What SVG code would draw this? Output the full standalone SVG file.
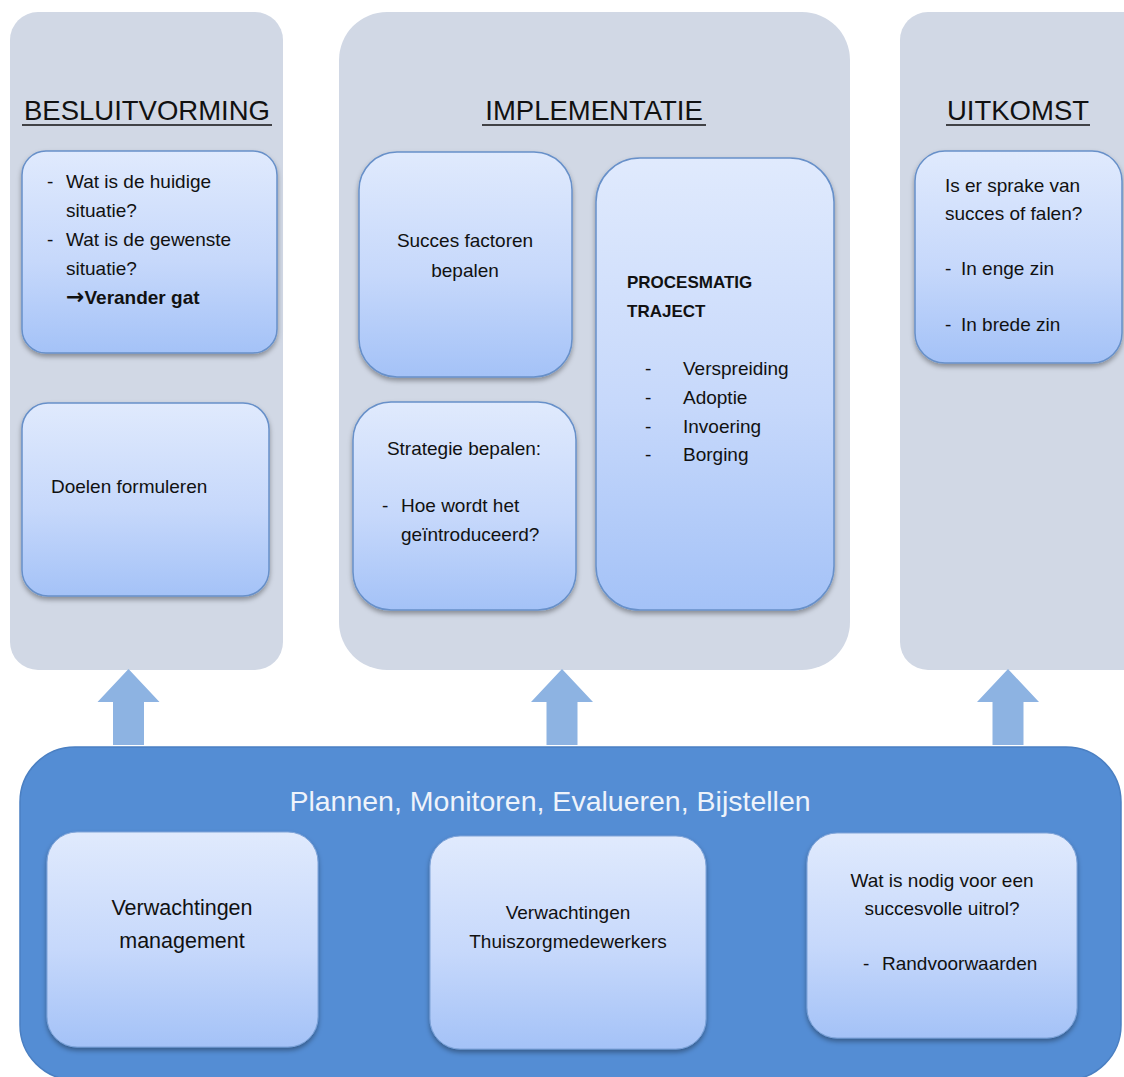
<svg xmlns="http://www.w3.org/2000/svg" width="1124" height="1077" viewBox="0 0 1124 1077">
<defs>
<linearGradient id="g" x1="0" y1="0" x2="0" y2="1">
<stop offset="0" stop-color="#e0eafd"/>
<stop offset="0.55" stop-color="#c6d8fb"/>
<stop offset="1" stop-color="#a4c2f7"/>
</linearGradient>
<filter id="sh" x="-10%" y="-10%" width="120%" height="125%">
<feDropShadow dx="0" dy="3" stdDeviation="2.5" flood-color="#000" flood-opacity="0.35"/>
</filter>
<style>
.col{fill:#d1d8e5;}
.box{fill:url(#g);stroke:#6790c9;stroke-width:1.5;filter:url(#sh);}
.sbox{fill:url(#g);stroke:#7ea3d8;stroke-width:1;filter:url(#sh);}
.t{font-family:"Liberation Sans",Arial,sans-serif;font-size:19px;fill:#111;}
.b{font-weight:bold;}
.title{font-family:"Liberation Sans",Arial,sans-serif;font-size:27.5px;fill:#111;}
.ul{stroke:#111;stroke-width:1.6;}
.arrow{fill:#8db3e2;}
.c{text-anchor:middle;}
</style>
</defs>

<g id="col-besluitvorming">
<rect class="col" x="10" y="12" width="273" height="658" rx="28"/>
<text class="title c" x="147" y="120">BESLUITVORMING</text>
<line class="ul" x1="22" y1="125" x2="272" y2="125"/>
</g>
<g id="col-implementatie">
<rect class="col" x="339" y="12" width="511" height="658" rx="48"/>
<text class="title c" x="594" y="120">IMPLEMENTATIE</text>
<line class="ul" x1="482" y1="125" x2="706" y2="125"/>
</g>
<g id="col-uitkomst">
<rect class="col" x="900" y="12" width="260" height="658" rx="28"/>
<text class="title c" x="1018" y="120">UITKOMST</text>
<line class="ul" x1="946" y1="125" x2="1090" y2="125"/>
</g>

<g id="node-situatie">
<rect class="box" x="22" y="151" width="255" height="202" rx="24"/>
<text class="t" x="47" y="188">-</text>
<text class="t" x="66" y="188">Wat is de huidige</text>
<text class="t" x="66" y="217">situatie?</text>
<text class="t" x="47" y="246">-</text>
<text class="t" x="66" y="246">Wat is de gewenste</text>
<text class="t" x="66" y="275">situatie?</text>
<text class="t b" x="66" y="304"><tspan style="font-family:'DejaVu Sans',sans-serif;font-size:22px">→</tspan>Verander gat</text>
</g>
<g id="node-doelen">
<rect class="box" x="22" y="403" width="247" height="193" rx="26"/>
<text class="t" x="51" y="493">Doelen formuleren</text>
</g>

<g id="node-succes">
<rect class="box" x="359" y="152" width="213" height="225" rx="38"/>
<text class="t c" x="465" y="247">Succes factoren</text>
<text class="t c" x="465" y="277">bepalen</text>
</g>
<g id="node-strategie">
<rect class="box" x="353" y="402" width="223" height="208" rx="38"/>
<text class="t c" x="464" y="455">Strategie bepalen:</text>
<text class="t" x="382" y="512">-</text>
<text class="t" x="401" y="512">Hoe wordt het</text>
<text class="t" x="401" y="541">geïntroduceerd?</text>
</g>
<g id="node-procesmatig">
<rect class="box" x="596" y="158" width="238" height="452" rx="44"/>
<text class="t b" x="627" y="288" style="font-size:17px">PROCESMATIG</text>
<text class="t b" x="627" y="317" style="font-size:17px">TRAJECT</text>
<text class="t" x="645" y="375">-</text><text class="t" x="683" y="375">Verspreiding</text>
<text class="t" x="645" y="404">-</text><text class="t" x="683" y="404">Adoptie</text>
<text class="t" x="645" y="433">-</text><text class="t" x="683" y="433">Invoering</text>
<text class="t" x="645" y="461">-</text><text class="t" x="683" y="461">Borging</text>
</g>

<g id="node-uitkomst">
<rect class="box" x="915" y="151" width="207" height="212" rx="30"/>
<text class="t" x="945" y="192">Is er sprake van</text>
<text class="t" x="945" y="220">succes of falen?</text>
<text class="t" x="945" y="275">-</text><text class="t" x="961" y="275">In enge zin</text>
<text class="t" x="945" y="331">-</text><text class="t" x="961" y="331">In brede zin</text>
</g>

<g id="connectors">
<polygon class="arrow" points="128.5,669 159.5,702 144,702 144,745 113,745 113,702 97.5,702"/>
<polygon class="arrow" points="562,669 593,702 577.5,702 577.5,745 546.5,745 546.5,702 531,702"/>
<polygon class="arrow" points="1008,669 1039,702 1023.5,702 1023.5,745 992.5,745 992.5,702 977,702"/>
</g>

<g id="node-pmeb">
<rect x="20" y="747" width="1101" height="333" rx="55" fill="#548dd4" stroke="#4a7fc2" stroke-width="1.5"/>
<text class="c" x="550" y="811" style="font-family:'Liberation Sans',Arial,sans-serif;font-size:28.5px;fill:#eef3fb">Plannen, Monitoren, Evalueren, Bijstellen</text>
</g>
<g id="node-management">
<rect class="sbox" x="47" y="832" width="271" height="215" rx="30"/>
<text class="t c" x="182" y="915" style="font-size:21.5px">Verwachtingen</text>
<text class="t c" x="182" y="948" style="font-size:21.5px">management</text>
</g>
<g id="node-thuiszorg">
<rect class="sbox" x="430" y="836" width="276" height="213" rx="30"/>
<text class="t c" x="568" y="919">Verwachtingen</text>
<text class="t c" x="568" y="948">Thuiszorgmedewerkers</text>
</g>
<g id="node-uitrol">
<rect class="sbox" x="807" y="833" width="270" height="205" rx="30"/>
<text class="t c" x="942" y="887">Wat is nodig voor een</text>
<text class="t c" x="942" y="915">succesvolle uitrol?</text>
<text class="t" x="863" y="970">-</text><text class="t" x="882" y="970">Randvoorwaarden</text>
</g>
</svg>
